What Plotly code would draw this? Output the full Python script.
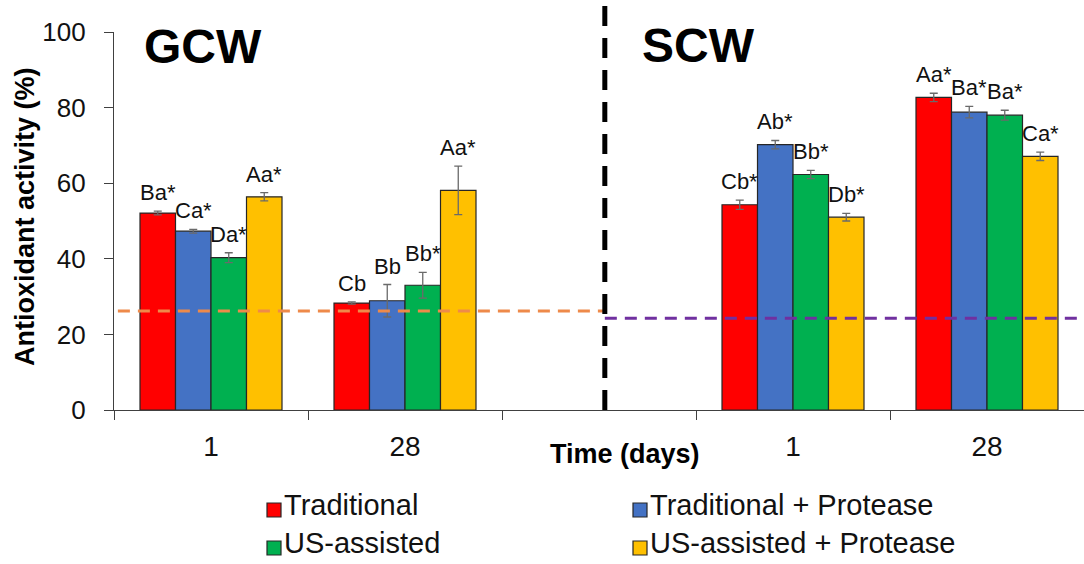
import plotly.graph_objects as go

# ---- data -------------------------------------------------------------
series_names = ["Traditional", "Traditional + Protease", "US-assisted", "US-assisted + Protease"]
series_colors = ["#FF0000", "#4472C4", "#00B050", "#FFC000"]

# x slots: GCW day 1, GCW day 28, (separator), SCW day 1, SCW day 28
slot_pos = [0, 1, 3, 4]
tick_labels = ["1", "28", "1", "28"]

traditional = [52.1, 28.3, 54.3, 82.7]
traditional_protease = [47.3, 28.9, 70.2, 78.8]
us_assisted = [40.3, 33.0, 62.3, 78.0]
us_assisted_protease = [56.4, 58.1, 51.0, 67.1]

err_traditional = [0.5, 0.3, 1.2, 1.1]
err_traditional_protease = [0.5, 4.3, 1.1, 1.5]
err_us_assisted = [1.3, 3.4, 1.1, 1.3]
err_us_assisted_protease = [1.1, 6.4, 1.0, 1.1]

lbl_traditional = ["Ba*", "Cb", "Cb*", "Aa*"]
lbl_traditional_protease = ["Ca*", "Bb", "Ab*", "Ba*"]
lbl_us_assisted = ["Da*", "Bb*", "Bb*", "Ba*"]
lbl_us_assisted_protease = ["Aa*", "Aa*", "Db*", "Ca*"]

control_gcw = 26.2
control_scw = 24.3

values = [traditional, traditional_protease, us_assisted, us_assisted_protease]
errors = [err_traditional, err_traditional_protease, err_us_assisted, err_us_assisted_protease]
labels = [lbl_traditional, lbl_traditional_protease, lbl_us_assisted, lbl_us_assisted_protease]

# ---- layout geometry --------------------------------------------------
W, H = 1084, 564
ML, MR, MT, MB = 114, 0, 32, 154
PW, PH = W - ML - MR, H - MT - MB
BARGAP = 0.268
bar_w = (1 - BARGAP) / len(series_names)
FONT = "Liberation Sans, Arial, sans-serif"


def px_x(px):
    return (px - ML) / PW


def px_y(py):
    return (MT + PH - py) / PH


fig = go.Figure()

for j, name in enumerate(series_names):
    fig.add_trace(go.Bar(
        name=name,
        x=slot_pos,
        y=values[j],
        marker=dict(color=series_colors[j], line=dict(color="#262626", width=1.2)),
        error_y=dict(type="data", array=errors[j], visible=True,
                     color="#6a6a6a", thickness=1.3, width=4),
        showlegend=False,
    ))

# letters above each bar
annotations = []
for j in range(len(series_names)):
    for i, xp in enumerate(slot_pos):
        annotations.append(dict(
            x=xp + (j - 1.5) * bar_w, y=values[j][i] + errors[j][i],
            xref="x", yref="y", text=labels[j][i], showarrow=False,
            xanchor="center", yanchor="bottom", yshift=4,
            font=dict(family=FONT, size=22, color="#111111"),
        ))

# panel titles
annotations.append(dict(x=px_x(203), y=px_y(46), xref="paper", yref="paper", text="<b>GCW</b>",
                        showarrow=False, xanchor="center", yanchor="middle",
                        font=dict(family=FONT, size=48, color="#000000")))
annotations.append(dict(x=px_x(698), y=px_y(45), xref="paper", yref="paper", text="<b>SCW</b>",
                        showarrow=False, xanchor="center", yanchor="middle",
                        font=dict(family=FONT, size=48, color="#000000")))

# axis titles
annotations.append(dict(x=px_x(625), y=px_y(454), xref="paper", yref="paper", text="<b>Time (days)</b>",
                        showarrow=False, xanchor="center", yanchor="middle",
                        font=dict(family=FONT, size=27, color="#000000")))
annotations.append(dict(x=px_x(25), y=px_y(217), xref="paper", yref="paper",
                        text="<b>Antioxidant activity (%)</b>", textangle=-90,
                        showarrow=False, xanchor="center", yanchor="middle",
                        font=dict(family=FONT, size=27, color="#000000")))

shapes = []
# legend: two columns, two rows
leg_cols = [267, 633]
leg_rows = [505, 543]
for j, name in enumerate(series_names):
    cx, ry = leg_cols[j % 2], leg_rows[j // 2]
    shapes.append(dict(type="rect", xref="paper", yref="paper",
                       x0=px_x(cx), x1=px_x(cx + 14), y0=px_y(ry - 2), y1=px_y(ry + 12),
                       fillcolor=series_colors[j], line=dict(color="#262626", width=1.2)))
    annotations.append(dict(x=px_x(cx + 15), y=px_y(ry), xref="paper", yref="paper", text=name,
                            showarrow=False, xanchor="left", yanchor="middle",
                            font=dict(family=FONT, size=29, color="#111111")))

# control reference levels
shapes.append(dict(type="line", xref="paper", yref="y", x0=0.004, x1=0.506,
                   y0=control_gcw, y1=control_gcw,
                   line=dict(color="#EE8A4A", width=3, dash="12px,8px")))
shapes.append(dict(type="line", xref="paper", yref="y", x0=0.506, x1=1.0,
                   y0=control_scw, y1=control_scw,
                   line=dict(color="#7030A0", width=3, dash="12px,8px")))
# separator between the two panels
shapes.append(dict(type="line", xref="paper", yref="paper", x0=0.506, x1=0.506,
                   y0=0, y1=(MT + PH) / PH,
                   line=dict(color="#000000", width=5, dash="20px,12px")))

boundaries = [-0.5, 0.5, 1.5, 2.5, 3.5, 4.5]

fig.update_layout(
    width=W, height=H,
    margin=dict(l=ML, r=MR, t=MT, b=MB),
    barmode="group", bargap=BARGAP, bargroupgap=0,
    plot_bgcolor="white", paper_bgcolor="white",
    annotations=annotations, shapes=shapes,
    xaxis=dict(range=[-0.5, 4.5], tickmode="array", tickvals=slot_pos, ticktext=tick_labels,
               ticks="", showgrid=False, zeroline=False,
               showline=True, linecolor="#404040", linewidth=1.3,
               ticklabelstandoff=11,
               tickfont=dict(family=FONT, size=28, color="#111111"),
               minor=dict(tickmode="array", tickvals=boundaries, ticks="outside",
                          ticklen=9, tickwidth=1.3, tickcolor="#404040", showgrid=False)),
    yaxis=dict(range=[0, 100], tickmode="linear", tick0=0, dtick=20,
               ticks="outside", ticklen=9, tickwidth=1.3, tickcolor="#404040",
               showgrid=False, zeroline=False,
               showline=True, linecolor="#404040", linewidth=1.3,
               ticklabelstandoff=13,
               tickfont=dict(family=FONT, size=26, color="#111111")),
)

fig.write_html("out.html")
